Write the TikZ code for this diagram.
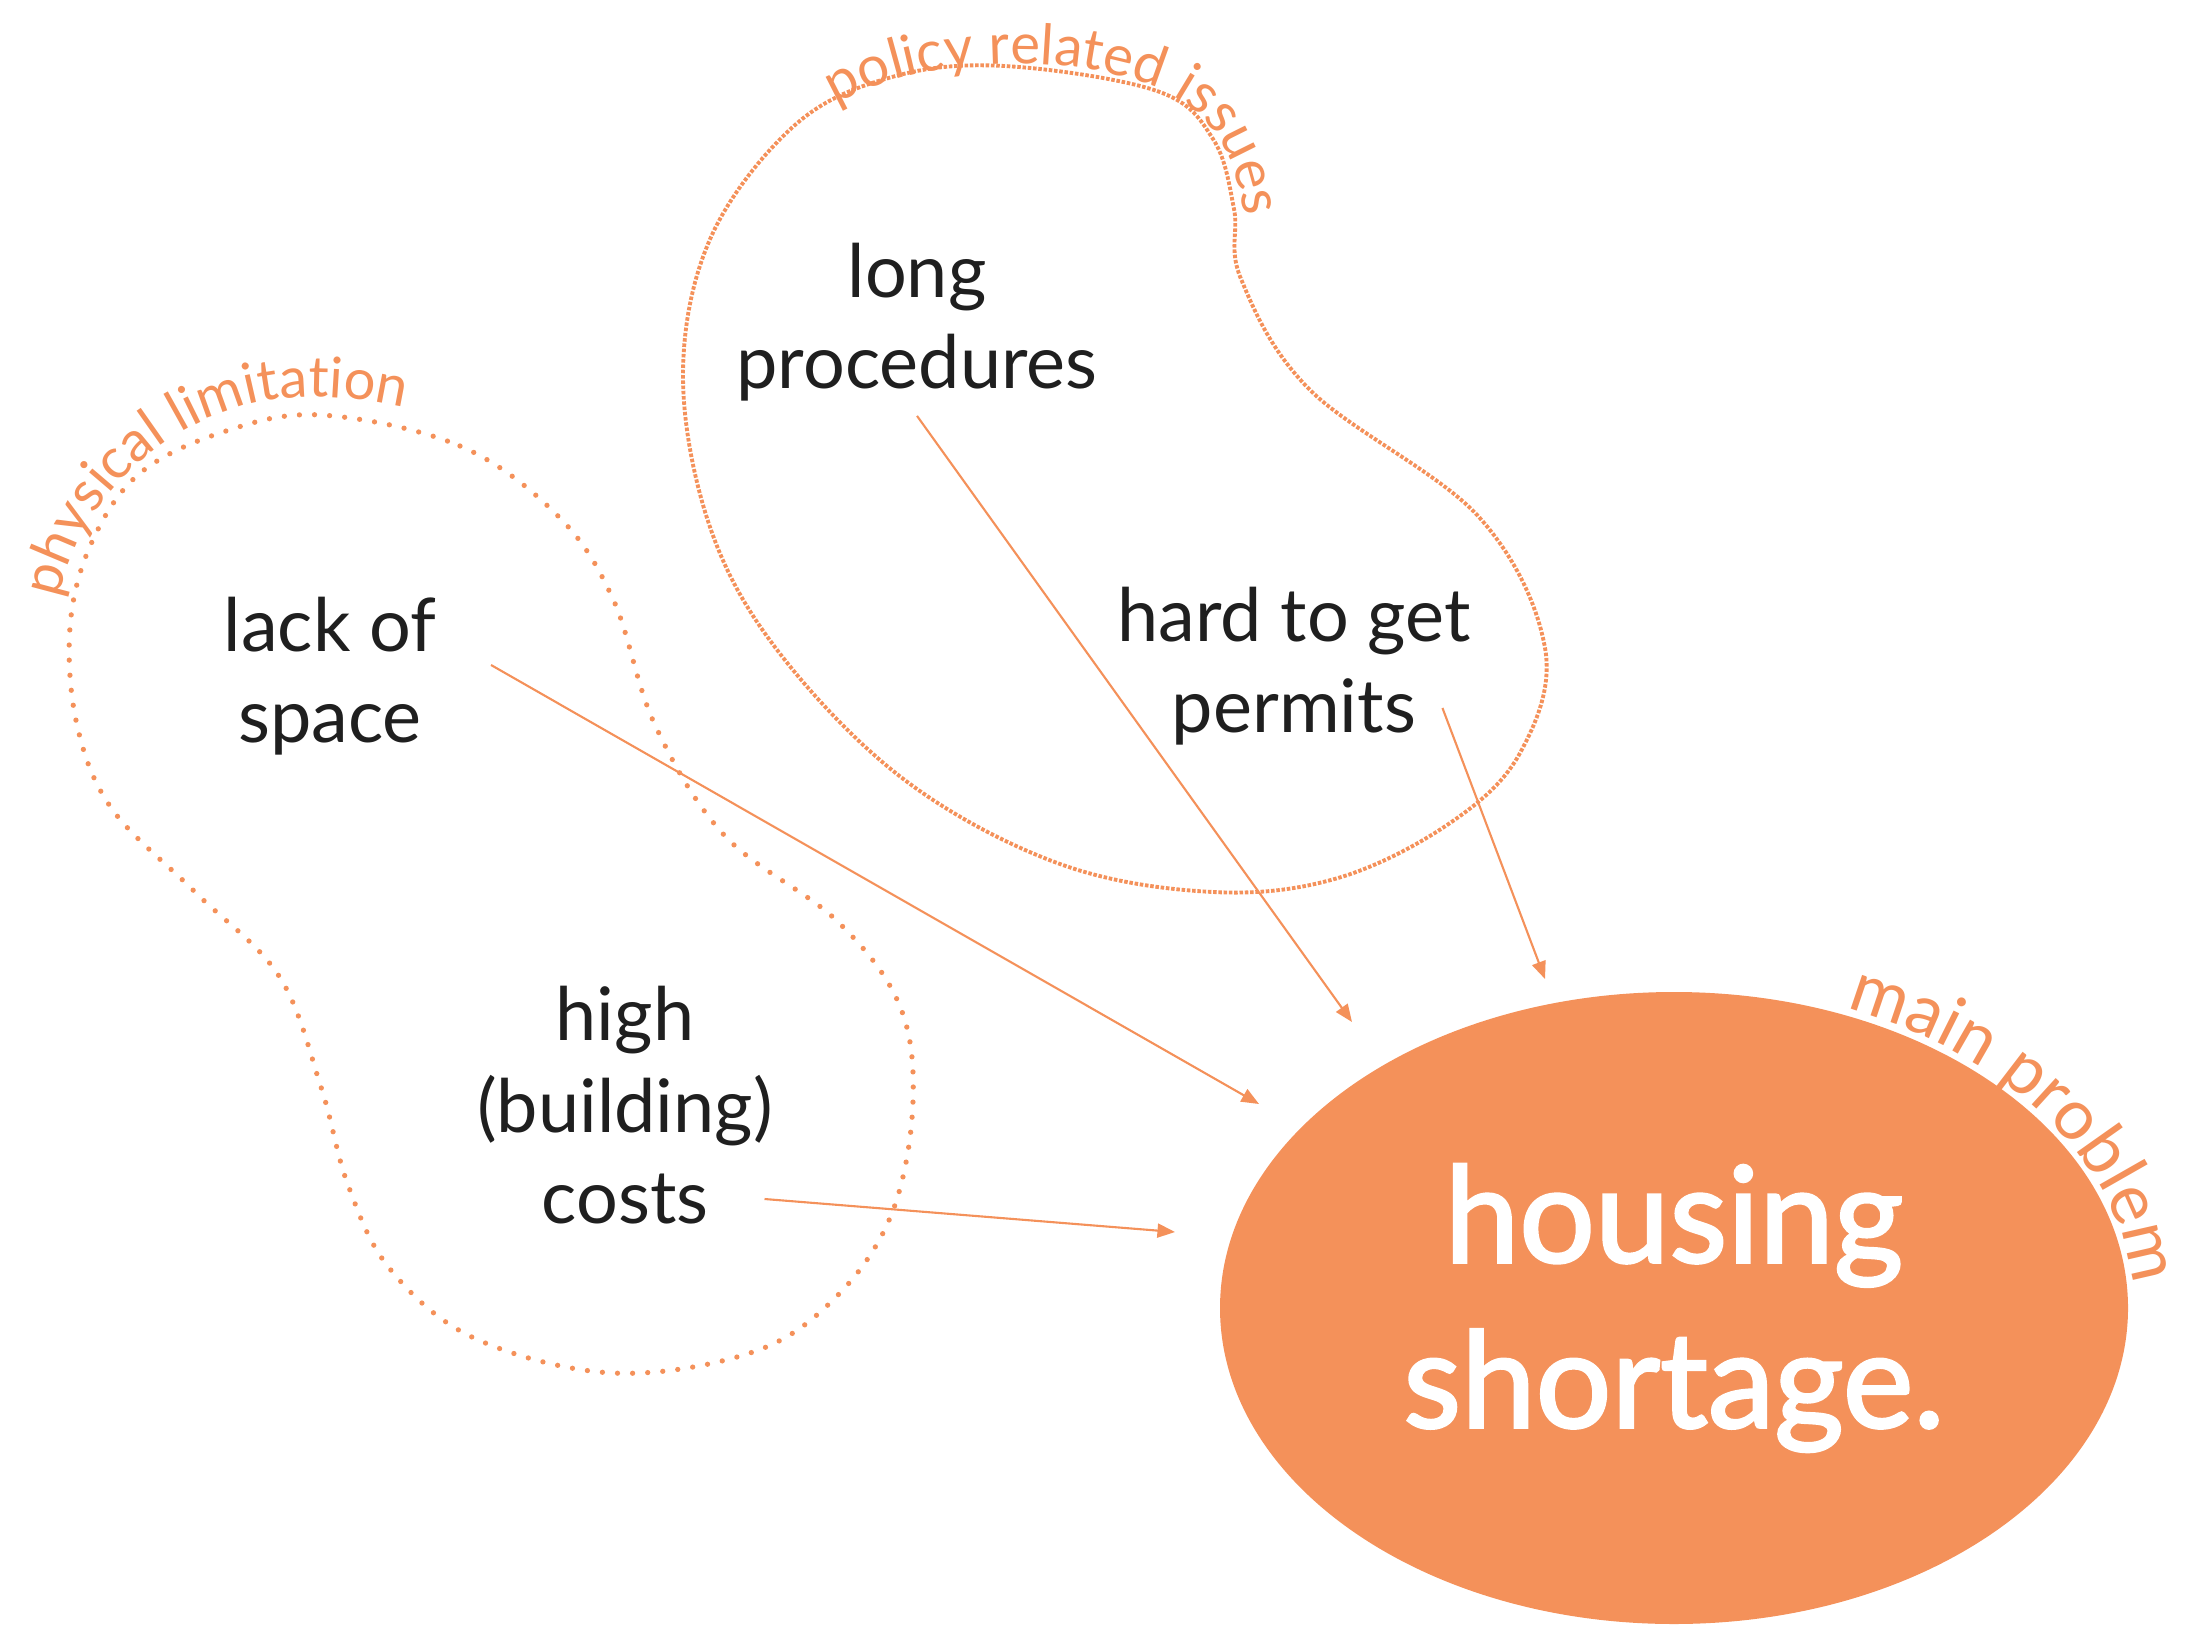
\documentclass[tikz,border=0pt]{standalone}
\usepackage{fontspec}
\setmainfont{Lato}
\newfontfamily\housefamily[FakeBold=2]{Lato}
\usetikzlibrary{arrows.meta,shapes.geometric,decorations.text}
\definecolor{hsorange}{RGB}{244,145,90}
\newcommand\causefont{\fontsize{21pt}{26pt}\selectfont}
\newcommand\tagfont{\fontsize{16pt}{18pt}\selectfont}
\newcommand\maintagfont{\fontsize{20pt}{22pt}\selectfont}
\newcommand\housefont{\housefamily\fontsize{38pt}{47pt}\selectfont}

\begin{document}
\begin{tikzpicture}[
  cause/.style={align=center, font=\causefont, text=black!88, inner sep=0pt},
  arr/.style={hsorange, line width=0.6pt, -{Triangle[length=5pt,width=4pt]}},
  policyline/.style={hsorange, line width=1.1pt, dash pattern=on 1pt off 0.5pt},
  physline/.style={hsorange, line width=1.5pt, line cap=round, dash pattern=on 0pt off 4.3pt},
]
\useasboundingbox (0,0) rectangle (21.86,16.27);

\draw[policyline] plot[smooth cycle, tension=0.6] coordinates {(10.04,15.61) (11.57,15.36) (12.13,14.88) (12.34,14.18) (12.41,13.48) (13.10,12.37) (14.78,11.11) (15.45,9.79) (15.20,8.74) (14.50,8.04) (13.38,7.49) (12.13,7.35) (10.60,7.63) (9.06,8.46) (7.81,9.72) (7.11,10.97) (6.83,12.51) (7.11,13.90) (7.95,15.02) (8.92,15.50)};
\draw[physline] plot[smooth cycle, tension=0.6] coordinates {(3.21,12.12) (4.60,11.81) (5.58,11.11) (6.13,10.28) (6.55,9.02) (7.25,7.91) (8.36,7.07) (8.99,6.23) (9.13,5.26) (8.92,4.14) (8.36,3.30) (7.53,2.75) (6.13,2.54) (4.74,2.89) (3.90,3.58) (3.48,4.42) (3.21,5.40) (2.79,6.51) (1.95,7.35) (1.12,8.18) (0.77,9.02) (0.70,10.00) (0.91,10.83) (1.39,11.53) (2.23,11.95)};

\path[decorate, decoration={text along path, text color=hsorange, text={|\tagfont|policy related issues}}]
  (8.36,15.22) .. controls (9.3,15.8) and (11.2,15.75) .. (11.9,15.2) .. controls (12.3,14.88) and (12.45,14.5) .. (12.5,13.4);
\path[decorate, decoration={text along path, text color=hsorange, text={|\tagfont|physical limitation}}]
  (0.59,10.28) .. controls (0.8,11.4) and (1.9,12.3) .. (3.07,12.30) .. controls (3.6,12.3) and (4.0,12.22) .. (4.6,12.05);

\node[cause] (long) at (9.17,13.05) {long\\procedures};
\node[cause] (permits) at (12.94,9.61) {hard to get\\permits};
\node[cause] (lack) at (3.30,9.51) {lack of\\space};
\node[cause, text depth=0pt] (costs) at (6.25,5.22) {high\\(building)\\costs};
\node[ellipse, fill=hsorange, minimum width=9.08cm, minimum height=6.32cm, inner sep=0pt,
  align=center, text=white, font=\housefont] (house) at (16.74,3.19) {housing\\shortage.};

\path[decorate, decoration={text along path, text color=hsorange, text={|\maintagfont|main problem}}]
  ([shift={(68:4.6 and 3.23)}]house.center) arc[start angle=68, end angle=-15, x radius=4.6, y radius=3.23];

\coordinate (in-long) at (13.52,6.05);
\coordinate (in-permits) at (15.45,6.48);
\coordinate (in-lack) at (12.59,5.23);
\coordinate (in-costs) at (11.75,3.95);

\draw[arr] ([yshift=-1.4mm]long.south) -- (in-long);
\draw[arr] ([shift={(-0.29,-0.42)}]permits.east) -- (in-permits);
\draw[arr] ([shift={(0.54,0.11)}]lack.east) -- (in-lack);
\draw[arr] ([shift={(-0.09,-0.94)}]costs.east) -- (in-costs);
\end{tikzpicture}
\end{document}
